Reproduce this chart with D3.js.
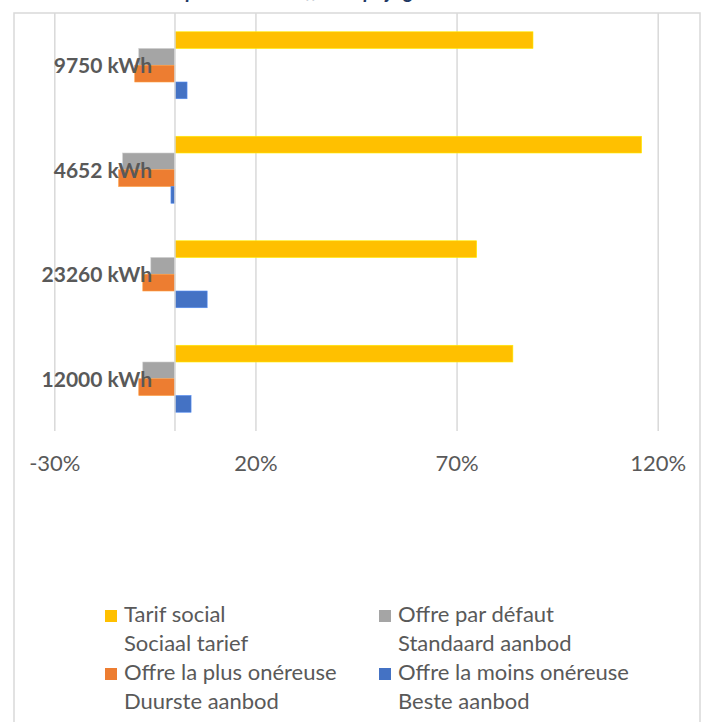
<!DOCTYPE html>
<html>
<head>
<meta charset="utf-8">
<script src="https://cdn.jsdelivr.net/npm/d3@7"></script>
<style>
  html, body { margin: 0; padding: 0; background: #ffffff; }
  svg { display: block; }
</style>
</head>
<body>
<div id="chart"></div>
<script>
// Consumption profiles, listed top to bottom
const categories = ["9750 kWh", "4652 kWh", "23260 kWh", "12000 kWh"];

// Series keys, drawn top to bottom within each group
const seriesKeys = ["social", "defaut", "onereuse", "moins"];
const seriesFr = ["Tarif social", "Offre par défaut", "Offre la plus onéreuse", "Offre la moins onéreuse"];
const seriesNl = ["Sociaal tarief", "Standaard aanbod", "Duurste aanbod", "Beste aanbod"];

// Relative differences (fraction), one value per category, same order as categories
const tarifSocial   = [0.89, 1.16, 0.75, 0.84];
const offreDefaut   = [-0.09, -0.13, -0.06, -0.08];
const offreOnereuse = [-0.10, -0.14, -0.08, -0.09];
const offreMoins    = [0.03, -0.01, 0.08, 0.04];

const tickValues = [-0.3, 0.2, 0.7, 1.2];

const titleText = "Comparaison des offres – prijs gas";

const seriesValues = {
  social: tarifSocial,
  defaut: offreDefaut,
  onereuse: offreOnereuse,
  moins: offreMoins
};
const colors = {
  social: "#FFC000",
  defaut: "#A5A5A5",
  onereuse: "#ED7D31",
  moins: "#4472C4"
};

const W = 705, H = 722;
const plot = { left: 54.3, right: 657.7, top: 13, bottom: 431 };
const textColor = "#595959";
const gridColor = "#D9D9D9";
const font = "Lato, 'Open Sans', sans-serif";

const svg = d3.select("#chart").append("svg")
  .attr("width", W).attr("height", H);

// Outer chart frame
svg.append("rect")
  .attr("x", 14).attr("y", 13)
  .attr("width", 686).attr("height", 740)
  .attr("fill", "none")
  .attr("stroke", gridColor)
  .attr("stroke-width", 1.5);

// Title (sits above the frame, mostly outside the page)
svg.append("text")
  .attr("x", 432).attr("y", -2.5)
  .attr("text-anchor", "end")
  .attr("font-family", font)
  .attr("font-weight", "bold")
  .attr("font-style", "italic")
  .attr("font-size", 20)
  .attr("fill", "#1F3864")
  .text(titleText);

const x = d3.scaleLinear().domain([-0.3, 1.2]).range([plot.left, plot.right]);

const y = d3.scaleBand()
  .domain(categories)
  .range([plot.top, plot.bottom])
  .paddingInner(0.359)
  .paddingOuter(0.359 / 2);

const ySub = d3.scaleBand()
  .domain(seriesKeys)
  .range([0, y.bandwidth()])
  .padding(0);

// Vertical gridlines
const xAxis = d3.axisBottom(x)
  .tickValues(tickValues)
  .tickSize(-(plot.bottom - plot.top))
  .tickFormat(d3.format(".0%"));

const gx = svg.append("g")
  .attr("transform", `translate(0,${plot.bottom})`)
  .call(xAxis);
gx.select(".domain").remove();
gx.selectAll(".tick line")
  .attr("stroke", gridColor)
  .attr("stroke-width", 1.5);
gx.selectAll(".tick text")
  .attr("y", 40)
  .attr("dy", 0)
  .attr("fill", textColor)
  .attr("font-family", font)
  .attr("font-size", 22)
  .text(d => d3.format(".0%")(d).replace("−", "-"));

// Bars
const rows = [];
categories.forEach((c, i) => {
  seriesKeys.forEach(k => rows.push({ cat: c, key: k, value: seriesValues[k][i] }));
});

svg.append("g").selectAll("rect")
  .data(rows)
  .join("rect")
  .attr("x", d => x(Math.min(0, d.value)))
  .attr("width", d => Math.abs(x(d.value) - x(0)))
  .attr("y", d => y(d.cat) + ySub(d.key))
  .attr("height", ySub.bandwidth())
  .attr("fill", d => colors[d.key])
  .attr("stroke", d => d3.color(colors[d.key]).brighter(0.6))
  .attr("stroke-width", 0.6);

// Category axis at zero
svg.append("line")
  .attr("x1", x(0)).attr("x2", x(0))
  .attr("y1", plot.top).attr("y2", plot.bottom)
  .attr("stroke", gridColor)
  .attr("stroke-width", 1.5);

// Category labels, drawn next to the zero axis
svg.append("g").selectAll("text")
  .data(categories)
  .join("text")
  .attr("x", 152)
  .attr("y", d => y(d) + y.bandwidth() / 2 + 8)
  .attr("text-anchor", "end")
  .attr("font-family", font)
  .attr("font-weight", "bold")
  .attr("font-size", 21)
  .attr("fill", textColor)
  .text(d => d);

// Legend: two columns, two entries each, bilingual labels
const legendPos = [
  { x: 105, y: 622 },
  { x: 379, y: 622 },
  { x: 105, y: 680 },
  { x: 379, y: 680 }
];
const legend = svg.append("g").selectAll("g")
  .data(seriesKeys)
  .join("g")
  .attr("transform", (d, i) => `translate(${legendPos[i].x},${legendPos[i].y})`);

legend.append("rect")
  .attr("x", 0).attr("y", -12)
  .attr("width", 12).attr("height", 12)
  .attr("fill", d => colors[d]);

legend.append("text")
  .attr("x", 19).attr("y", 0)
  .attr("font-family", font)
  .attr("font-size", 22)
  .attr("fill", textColor)
  .text((d, i) => seriesFr[i]);

legend.append("text")
  .attr("x", 19).attr("y", 29)
  .attr("font-family", font)
  .attr("font-size", 22)
  .attr("fill", textColor)
  .text((d, i) => seriesNl[i]);
</script>
</body>
</html>
